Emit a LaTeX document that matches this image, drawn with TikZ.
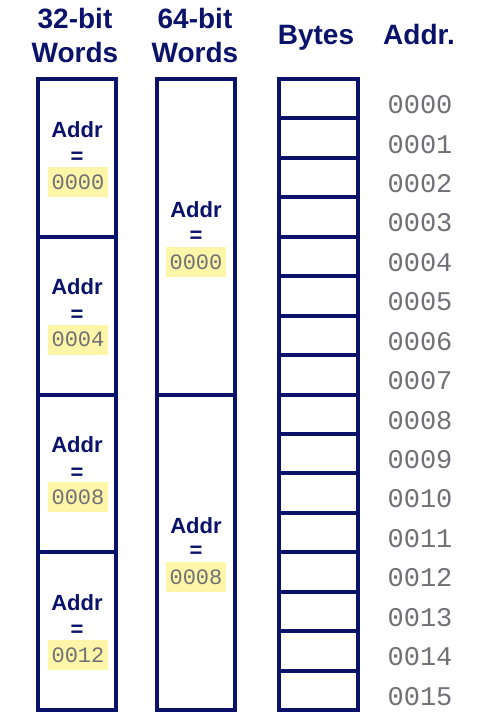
\documentclass[tikz,border=0pt]{standalone}
\usepackage{fontspec}
\setmainfont{Liberation Sans}
\newfontfamily\monof{Liberation Mono}
\definecolor{navy}{RGB}{10,18,105}
\definecolor{dgray}{RGB}{112,112,118}
\definecolor{hl}{RGB}{253,246,168}
\tikzset{
  hdr/.style={font=\fontsize{28}{30}\selectfont\bfseries, text=navy, inner sep=0pt, anchor=base},
  cellbox/.style={draw=navy, line width=4pt, inner sep=0pt, minimum width=#1},
  addrword/.style={font=\fontsize{22}{24}\selectfont\bfseries, text=navy, inner sep=0pt},
  eqsign/.style={font=\fontsize{22}{24}\selectfont\bfseries, text=navy, inner sep=0pt},
  hlnum/.style={font=\monof\fontsize{22}{24}\selectfont, text=dgray, fill=hl, inner sep=0pt, minimum width=60pt, minimum height=30pt},
  addrnum/.style={font=\monof\fontsize{27}{29}\selectfont, text=dgray, inner sep=0pt}
}
\begin{document}
\begin{tikzpicture}[x=1pt,y=-1pt]
\useasboundingbox[fill=white] (0,0) rectangle (480,722);
% headers
\node[hdr] (h1a) at (75,29) {32-bit};
\node[hdr] (h1b) at (75,63) {Words};
\node[hdr] (h2a) at (195,29) {64-bit};
\node[hdr] (h2b) at (195,63) {Words};
\node[hdr] (h3) at (316,45) {Bytes};
\node[hdr] (h4) at (419,45) {Addr.};
% bytes column and addresses
\foreach \i [evaluate=\i as \cy using 79+39.4375*(\i+0.5)] in {0,...,15}{
  \node[cellbox=79pt, minimum height=39.4375pt] (b\i) at (318.5,\cy) {};
  \node[addrnum] (a\i) at (420,\cy+6) {\ifnum\i<10 000\i\else 00\i\fi};
}
% 32-bit words
\foreach \k/\v in {0/0000,1/0004,2/0008,3/0012}{
  \pgfmathsetmacro{\cy}{79+157.75*(\k+0.5)}
  \node[cellbox=78pt, minimum height=157.75pt] (w\k) at (77,\cy) {};
  \node[addrword] (wa\k) at (77,\cy-28.5) {Addr};
  \node[eqsign] (we\k) at (77,\cy) {=};
  \node[hlnum] (wn\k) at (78,\cy+24) {\v};
}
% 64-bit words
\foreach \k/\v in {0/0000,1/0008}{
  \pgfmathsetmacro{\cy}{79+315.5*(\k+0.5)}
  \node[cellbox=78pt, minimum height=315.5pt] (d\k) at (196,\cy) {};
  \node[addrword] (da\k) at (196,\cy-27) {Addr};
  \node[eqsign] (de\k) at (196,\cy) {=};
  \node[hlnum] (dn\k) at (196,\cy+25) {\v};
}
\end{tikzpicture}
\end{document}
